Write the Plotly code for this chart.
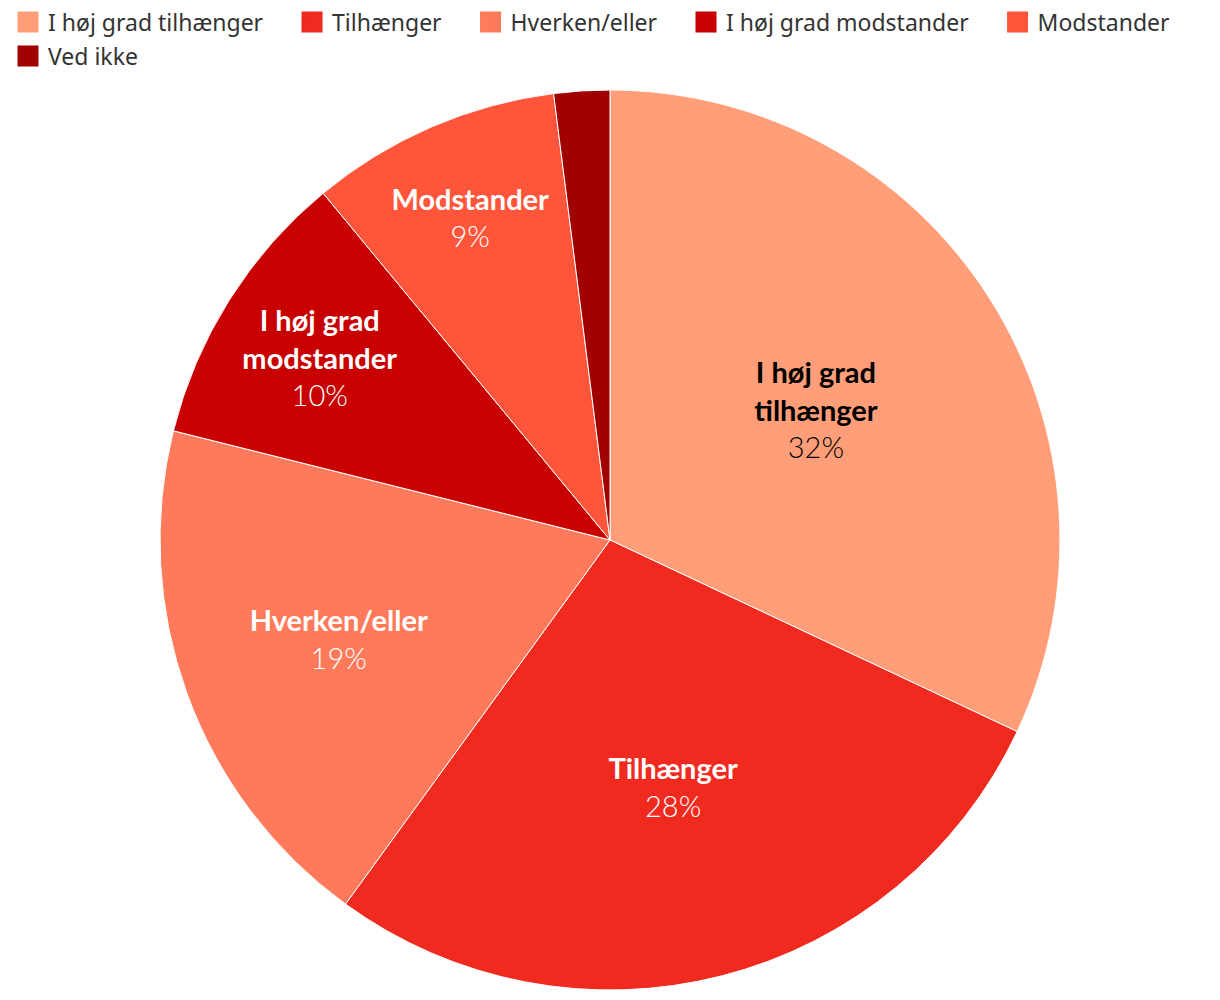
import plotly.graph_objects as go

categories = ["I høj grad tilhænger", "Tilhænger", "Hverken/eller",
              "I høj grad modstander", "Modstander", "Ved ikke"]
display_labels = ["I høj grad<br>tilhænger", "Tilhænger", "Hverken/eller",
                  "I høj grad<br>modstander", "Modstander", ""]
values = [32.0, 28.0, 18.9, 10.1, 9.0, 2.0]
colors = ["#FF9E78", "#F02A1F", "#FF7A5A", "#C80000", "#FF553B", "#A00000"]
text_colors = ["#000000", "#FFFFFF", "#FFFFFF", "#FFFFFF", "#FFFFFF", "#FFFFFF"]
legend_rows = ["legend", "legend", "legend", "legend", "legend", "legend2"]

templates = [("<b>%{text}</b><br><span style='font-weight:300'>%{percent:.0%}</span>" if t else "")
             for t in display_labels]

fig = go.Figure(go.Pie(
    labels=categories,
    values=values,
    text=display_labels,
    texttemplate=templates,
    textposition="inside",
    insidetextorientation="horizontal",
    sort=False,
    direction="clockwise",
    rotation=0,
    marker=dict(colors=colors, line=dict(color="#FFFFFF", width=1)),
    textfont=dict(family="Lato", size=29, color=text_colors),
    hoverinfo="label+percent",
    showlegend=False,
))

# legend entries (square swatches)
for name, col, lg in zip(categories, colors, legend_rows):
    fig.add_trace(go.Scatter(
        x=[None], y=[None], mode="markers", name=name + "\u00a0" * 4,
        marker=dict(symbol="square", size=16, color=col, line=dict(color=col, width=5)),
        legend=lg, hoverinfo="skip",
    ))

fig.update_xaxes(visible=False)
fig.update_yaxes(visible=False)

legend_font = dict(family="Noto Sans, sans-serif", size=23, color="#333333")
fig.update_layout(
    width=1220, height=1000,
    margin=dict(l=0, r=16, t=82, b=18),
    paper_bgcolor="#FFFFFF",
    plot_bgcolor="#FFFFFF",
    showlegend=True,
    legend=dict(
        orientation="h", x=0, y=1 - 14 / 1000, xref="container", yref="container",
        xanchor="left", yanchor="middle", font=legend_font, traceorder="normal",
        bgcolor="rgba(0,0,0,0)",
    ),
    legend2=dict(
        orientation="h", x=0, y=1 - 48 / 1000, xref="container", yref="container",
        xanchor="left", yanchor="middle", font=legend_font, traceorder="normal",
        bgcolor="rgba(0,0,0,0)",
    ),
)

fig.write_html("out.html")
